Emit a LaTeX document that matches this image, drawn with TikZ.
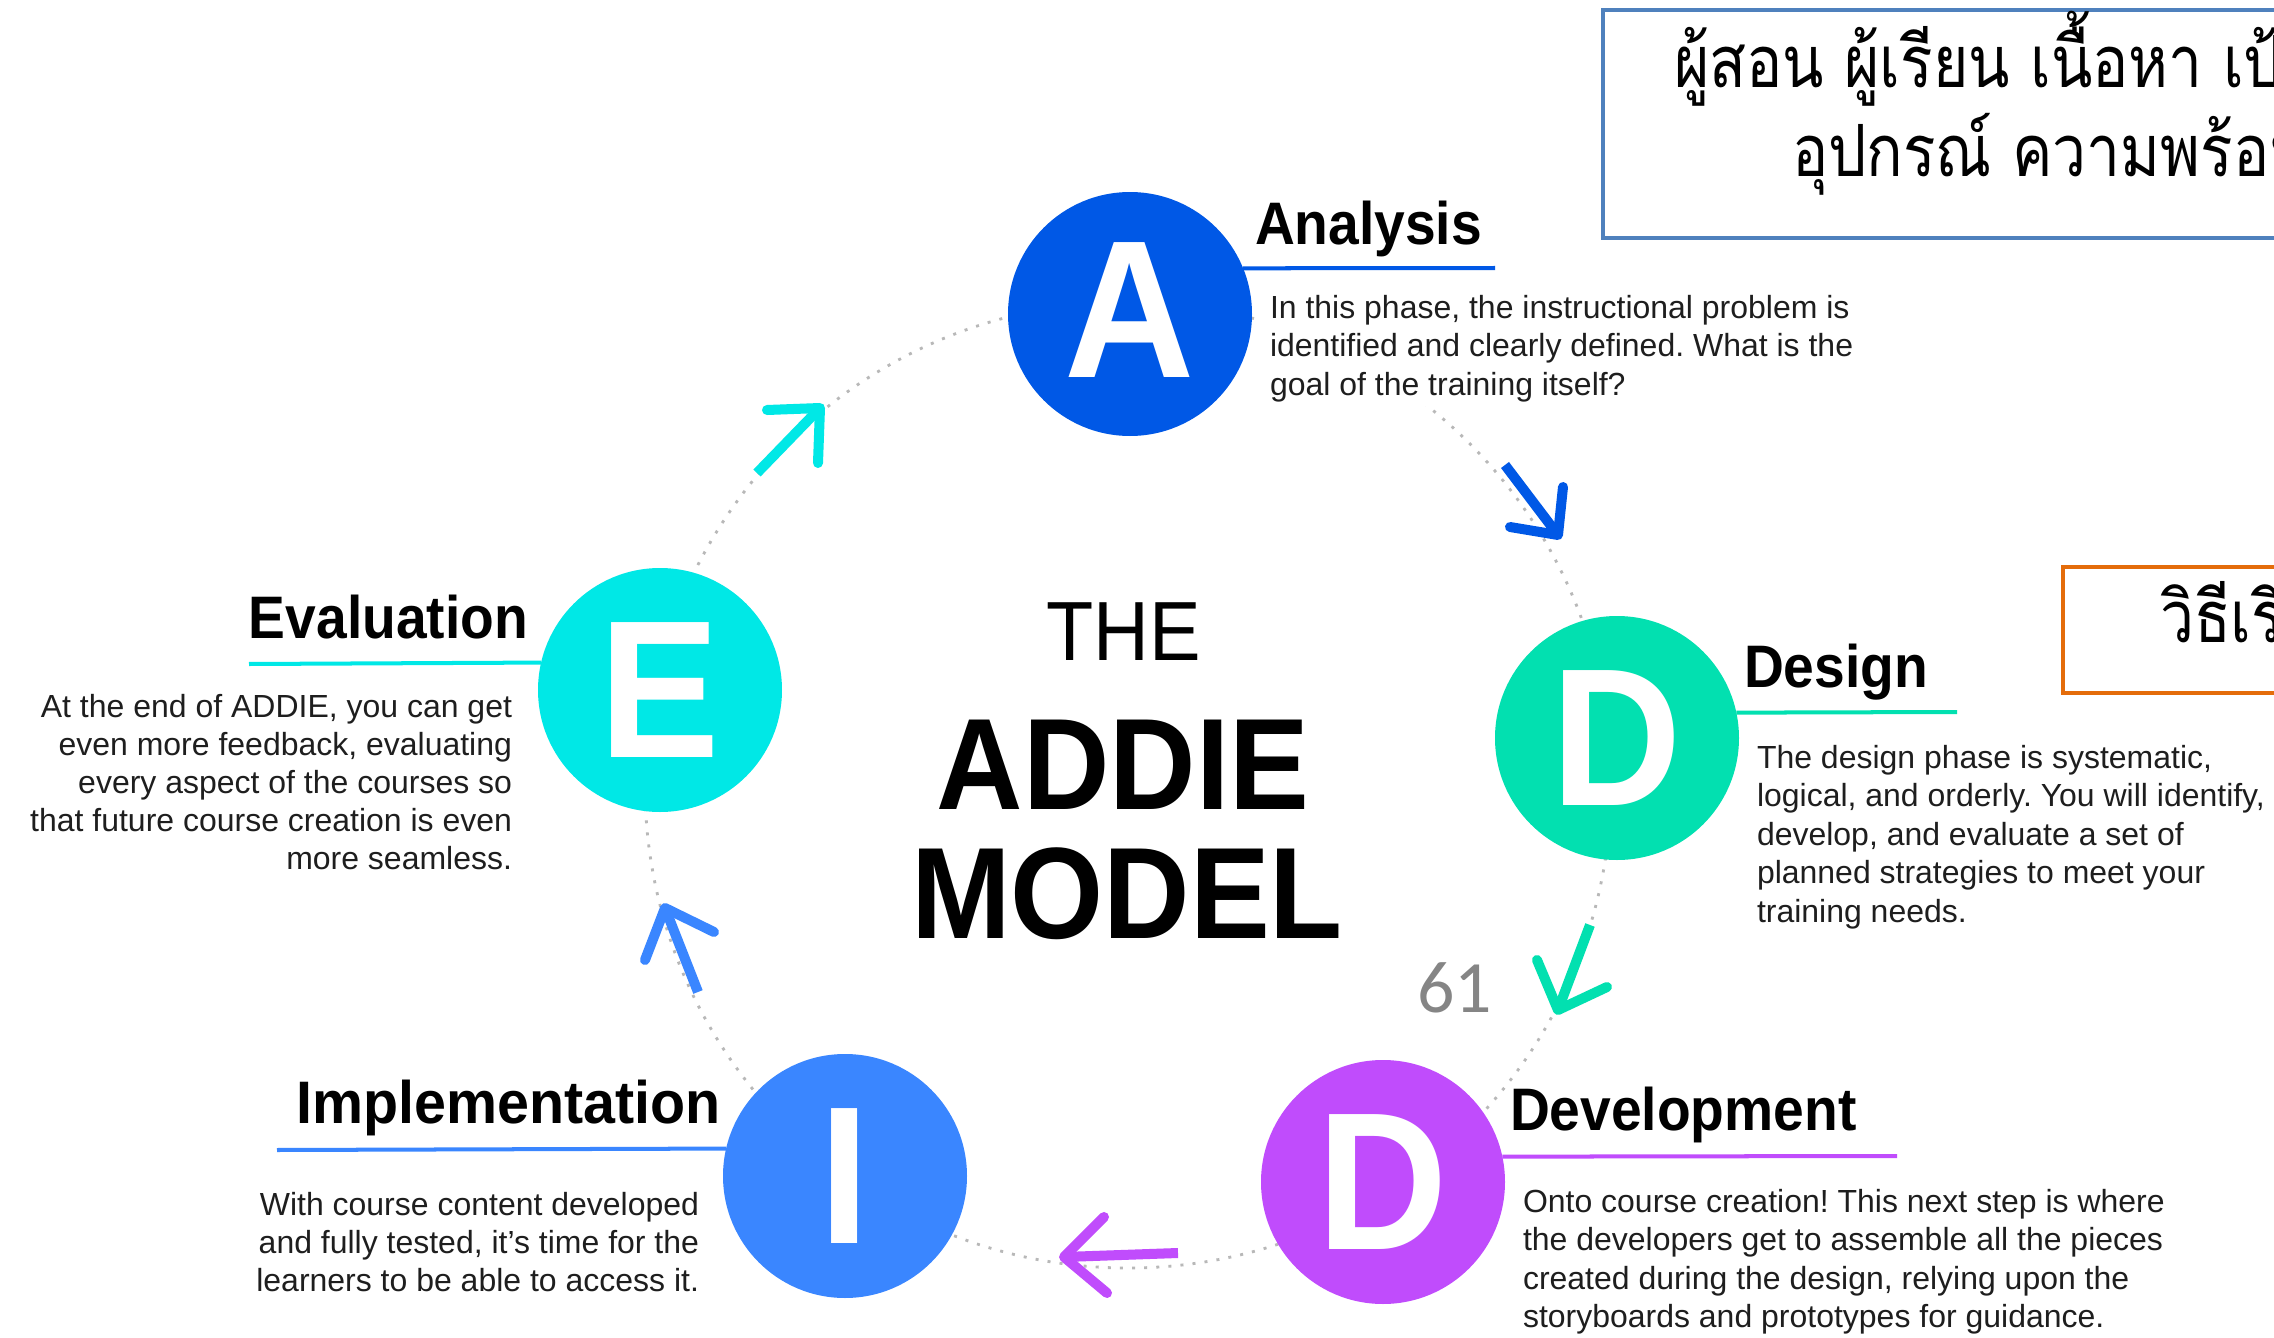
\documentclass[tikz,border=0pt]{standalone}
\usepackage{fontspec}
\setmainfont{Liberation Sans}
\newfontfamily\headfont{Liberation Sans}[FakeStretch=0.92]
\newfontfamily\thaifont[Script=Thai, FakeStretch=0.84]{Loma}
\newfontfamily\numfont{Carlito}
\frenchspacing

\definecolor{aBlue}{RGB}{0,88,230}
\definecolor{dMint}{RGB}{2,224,176}
\definecolor{dPurple}{RGB}{192,76,252}
\definecolor{iBlue}{RGB}{58,134,255}
\definecolor{eCyan}{RGB}{0,232,230}
\definecolor{boxBlue}{RGB}{79,129,189}
\definecolor{boxOrange}{RGB}{228,108,10}
\definecolor{inkText}{RGB}{30,30,30}

\begin{document}
\begin{tikzpicture}[x=0.1mm, y=-0.1mm,
  every node/.style={inner sep=0pt, outer sep=0pt},
  phase/.style={circle, minimum size=24.4mm, text=white,
    font=\headfont\bfseries\fontsize{55.8pt}{56pt}\selectfont},
  ring/.style={draw=black!28, line width=0.8pt, dash pattern=on 0.85pt off 2.6pt},
  phaserule/.style={line width=1.14pt},
  heading/.style={font=\headfont\bfseries\fontsize{17.07pt}{20pt}\selectfont, text=black},
  body/.style={font=\fontsize{9.1pt}{11pt}\selectfont, text=inkText},
  shaftstroke/.style={line width=2.85pt},
  tipstroke/.style={line width=2.85pt, line cap=round, line join=round},
  thaibox/.style={line width=1.25pt, fill=white},
  thaitext/.style={font=\thaifont\fontsize{20.5pt}{24pt}\selectfont, text=black},
]
\useasboundingbox (0,0) rectangle (2274,1338);
\fill[white] (0,0) rectangle (2274,1338);
\clip (0,0) rectangle (2274,1338);

% dotted cycle behind the phase discs
\draw[ring] (1128,785) circle (483);
% keep the dots away from the Analysis description
\fill[white] (1262,292) rectangle (1875,406);

% phase discs
\node[phase, fill=aBlue]   (A)  at (1130,314) {\raisebox{2.5pt}{A}};
\node[phase, fill=dMint]   (D1) at (1617,738) {D};
\node[phase, fill=dPurple] (D2) at (1383,1182) {D};
\node[phase, fill=iBlue]   (I)  at (845,1176) {I};
\node[phase, fill=eCyan]   (E)  at (660,690) {E};

% heading rules
\coordinate (aRuleEnd) at (1495,268);
\coordinate (d1RuleEnd) at (1957,712);
\coordinate (d2RuleEnd) at (1897,1156);
\coordinate (iRuleEnd) at (277,1150);
\coordinate (eRuleEnd) at (249,664);
\draw[phaserule, aBlue]   (A.22)    -- (aRuleEnd);
\draw[phaserule, dMint]   (D1.12.3) -- (d1RuleEnd);
\draw[phaserule, dPurple] (D2.12.3) -- (d2RuleEnd);
\draw[phaserule, iBlue]   (I.167.7) -- (iRuleEnd);
\draw[phaserule, eCyan]   (E.167.7) -- (eRuleEnd);

% headings
\node[heading, anchor=base west] (aHead)  at (1255,245)  {Analysis};
\node[heading, anchor=base west] (d1Head) at (1744,687)  {Design};
\node[heading, anchor=base west] (d2Head) at (1510,1130) {Development};
\node[heading, anchor=base east, xscale=1.04] (iHead)  at (721,1123)  {Implementation};
\node[heading, anchor=base east] (eHead)  at (528,638)   {Evaluation};

% descriptions
\foreach \ln [count=\k from 0] in {{In this phase, the instructional problem is},
    {identified and clearly defined. What is the},{goal of the training itself?}}
  \node[body, anchor=base west] (aText\k) at (1270,{318+38.5*\k}) {\ln};
\foreach \ln [count=\k from 0] in {{The design phase is systematic,},
    {logical, and orderly. You will identify,},{develop, and evaluate a set of},
    {planned strategies to meet your},{training needs.}}
  \node[body, anchor=base west] (d1Text\k) at (1757,{768+38.5*\k}) {\ln};
\foreach \ln [count=\k from 0] in {{Onto course creation! This next step is where},
    {the developers get to assemble all the pieces},
    {created during the design, relying upon the},
    {storyboards and prototypes for guidance.}}
  \node[body, anchor=base west] (d2Text\k) at (1523,{1212+38.5*\k}) {\ln};
\foreach \ln [count=\k from 0] in {{With course content developed},
    {and fully tested, it’s time for the},{learners to be able to access it.}}
  \node[body, anchor=base east] (iText\k) at (699,{1215+38*\k}) {\ln};
\foreach \ln [count=\k from 0] in {{At the end of ADDIE, you can get},
    {even more feedback, evaluating},{every aspect of the courses so},
    {that future course creation is even},{more seamless.}}
  \node[body, anchor=base east] (eText\k) at (512,{717+38*\k}) {\ln};

% title
\node[anchor=base, font=\headfont\fontsize{23.9pt}{24pt}\selectfont] (tThe) at (1124,660) {THE};
\node[anchor=base, font=\headfont\bfseries\fontsize{37pt}{37pt}\selectfont] (tAddie) at (1123,809) {ADDIE};
\node[anchor=base, font=\headfont\bfseries\fontsize{37pt}{37pt}\selectfont] (tModel) at (1127,938) {MODEL};

% flow arrows on the cycle
\coordinate (s1) at (757,473);  \coordinate (t1) at (820,408);
\coordinate (u1) at (767,410);  \coordinate (v1) at (818,463);
\draw[shaftstroke, eCyan] (s1) -- (t1);
\draw[tipstroke, eCyan] (u1) -- (t1) -- (v1);

\coordinate (s2) at (1505,465); \coordinate (t2) at (1558,535);
\coordinate (u2) at (1510,527); \coordinate (v2) at (1563,487);
\draw[shaftstroke, aBlue] (s2) -- (t2);
\draw[tipstroke, aBlue] (u2) -- (t2) -- (v2);

\coordinate (s3) at (1590,925); \coordinate (t3) at (1558,1010);
\coordinate (u3) at (1537,960); \coordinate (v3) at (1607,987);
\draw[shaftstroke, dMint] (s3) -- (t3);
\draw[tipstroke, dMint] (u3) -- (t3) -- (v3);

\coordinate (s4) at (1178,1253); \coordinate (t4) at (1064,1257);
\coordinate (u4) at (1104,1217); \coordinate (v4) at (1107,1293);
\draw[shaftstroke, dPurple] (s4) -- (t4);
\draw[tipstroke, dPurple] (u4) -- (t4) -- (v4);

\coordinate (s5) at (698,992); \coordinate (t5) at (665,908);
\coordinate (u5) at (645,960); \coordinate (v5) at (714,932);
\draw[shaftstroke, iBlue] (s5) -- (t5);
\draw[tipstroke, iBlue] (u5) -- (t5) -- (v5);

% slide number
\node[anchor=base west, font=\numfont\fontsize{21pt}{21pt}\selectfont, text=black!48] (pageNo) at (1417,1012) {61};

% Thai note boxes
\draw[thaibox, draw=boxBlue] (1603,10) rectangle (2320,238);
\node[thaitext, anchor=base west] (noteA1) at (1674,87) {ผู้สอน ผู้เรียน เนื้อหา เป้าหมาย};
\node[thaitext, anchor=base west] (noteA2) at (1792,177) {อุปกรณ์ ความพร้อม};
\draw[thaibox, draw=boxOrange] (2063,567) rectangle (2320,693);
\node[thaitext, anchor=base west] (noteB) at (2160,642) {วิธีเรียน};
\end{tikzpicture}
\end{document}
